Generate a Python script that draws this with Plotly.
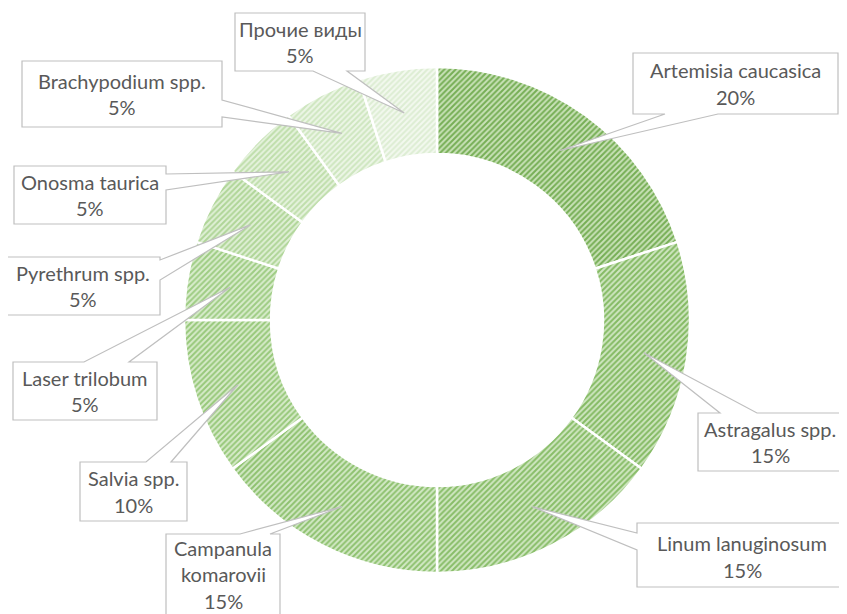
import math
import plotly.graph_objects as go

# ---- data ----
species = ["Artemisia caucasica", "Astragalus spp.", "Linum lanuginosum",
           "Campanula komarovii", "Salvia spp.", "Laser trilobum",
           "Pyrethrum spp.", "Onosma taurica", "Brachypodium spp.", "Прочие виды"]
shares = [20, 15, 15, 15, 10, 5, 5, 5, 5, 5]
label_lines = [["Artemisia caucasica"], ["Astragalus spp."], ["Linum lanuginosum"],
               ["Campanula", "komarovii"], ["Salvia spp."], ["Laser trilobum"],
               ["Pyrethrum spp."], ["Onosma taurica"], ["Brachypodium spp."], ["Прочие виды"]]

# ---- style ----
fg_colors = ["#76ae55", "#84ba63", "#88bd68", "#8ec16f", "#97c87a", "#9ecc83",
             "#afd597", "#bfdeab", "#cee6bf", "#ddedd3"]
bg_colors = ["#c9e2b8", "#cfe6c1", "#d0e7c2", "#d3e9c6", "#d7ebca", "#daedce",
             "#e0f0d6", "#e6f3de", "#edf6e7", "#f3f9ef"]

W, H = 847, 614
OFF = 8  # page body margin
CX, CY, R_OUT, R_IN = 437, 320, 253, 166

# callout boxes (pixel coords x0, y0, x1, y1), wedge side and base
boxes = [
    (633, 53, 838, 114, "bottom", (665, 718)),
    (698, 413, 842, 471, "top", (720, 757)),
    (637, 523, 860, 587, "left", (533, 550)),
    (166, 534, 280, 630, "top", (240, 270)),
    (80, 462, 187, 521, "top", (146, 171)),
    (13, 362, 157, 420, "top", (84, 129)),
    (5, 257, 160, 315, "right", (260, 280)),
    (14, 166, 166, 224, "right", (174, 190)),
    (22, 61, 222, 127, "right", (100, 117)),
    (235, 13, 365, 71, "bottom", (313, 347)),
]

def px(x):
    return (x - OFF) / W

def py(y):
    return 1 - (y - OFF) / H

fig = go.Figure()
fig.add_trace(go.Pie(
    labels=species, values=shares, sort=False, direction="clockwise", rotation=0,
    hole=R_IN / R_OUT, textinfo="none", hoverinfo="label+percent",
    domain=dict(x=[px(CX - R_OUT), px(CX + R_OUT)], y=[py(CY + R_OUT), py(CY - R_OUT)]),
    marker=dict(
        colors=bg_colors,
        line=dict(color="white", width=2.5),
        pattern=dict(shape="/", fgcolor=fg_colors, bgcolor=bg_colors, size=4, solidity=0.5),
    ),
    showlegend=False,
))

total = sum(shares)
cum = 0
shapes = []
annotations = []
r_mid = (R_IN + R_OUT) / 2
for i, v in enumerate(shares):
    theta = (cum + v / 2) / total * 2 * math.pi
    cum += v
    tx = CX + r_mid * math.sin(theta)
    ty = CY - r_mid * math.cos(theta)
    x0, y0, x1, y1, side, (a, b) = boxes[i]
    pts = [(x0, y0)]
    if side == "top":
        pts += [(a, y0), (tx, ty), (b, y0)]
    pts.append((x1, y0))
    if side == "right":
        pts += [(x1, a), (tx, ty), (x1, b)]
    pts.append((x1, y1))
    if side == "bottom":
        pts += [(b, y1), (tx, ty), (a, y1)]
    pts.append((x0, y1))
    if side == "left":
        pts += [(x0, b), (tx, ty), (x0, a)]
    path = "M " + " L ".join(f"{px(x):.5f},{py(y):.5f}" for x, y in pts) + " Z"
    shapes.append(dict(type="path", path=path, xref="paper", yref="paper",
                       fillcolor="white", line=dict(color="#bfbfbf", width=1.2),
                       layer="above"))
    lines = label_lines[i] + [f"{round(v / total * 100)}%"]
    if i == 3:
        cyb = 574
    elif i == 2:
        cyb = 556.5
    else:
        cyb = (y0 + y1) / 2
    cxb = (x0 + 847) / 2 if i == 2 else (x0 + x1) / 2
    n = len(lines)
    for k, t in enumerate(lines):
        ly = cyb + (k - (n - 1) / 2) * 26.5
        annotations.append(dict(
            x=px(cxb), y=py(ly),
            xref="paper", yref="paper", text=t, showarrow=False,
            xanchor="center", yanchor="middle",
            font=dict(family="Lato", size=20, color="#595959")))

fig.update_layout(
    width=W, height=H, margin=dict(l=0, r=0, t=0, b=0),
    paper_bgcolor="white", plot_bgcolor="white",
    shapes=shapes, annotations=annotations,
)
fig.write_html("out.html")
